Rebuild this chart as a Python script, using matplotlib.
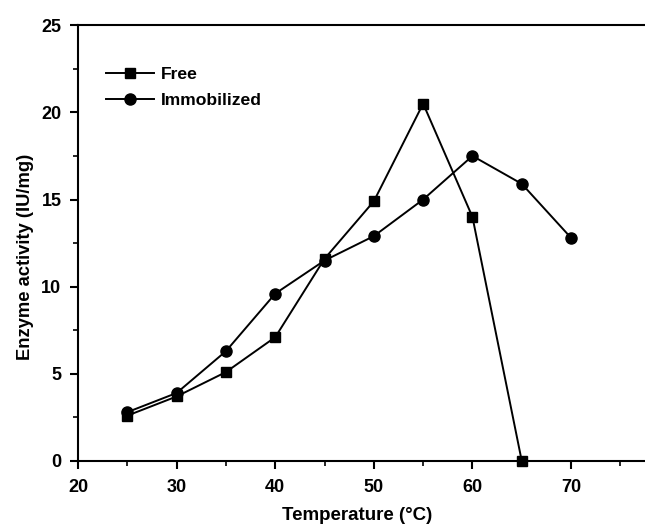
import matplotlib
matplotlib.use("Agg")
import matplotlib.pyplot as plt
from matplotlib.ticker import MultipleLocator

plt.rcParams['font.family'] = ['Liberation Sans', 'DejaVu Sans']
plt.rcParams['font.weight'] = 'bold'

temp_free = [25, 30, 35, 40, 45, 50, 55, 60, 65]
act_free = [2.6, 3.7, 5.1, 7.1, 11.6, 14.9, 20.5, 14.0, 0.0]
temp_imm = [25, 30, 35, 40, 45, 50, 55, 60, 65, 70]
act_imm = [2.8, 3.9, 6.3, 9.6, 11.5, 12.9, 15.0, 17.5, 15.9, 12.8]

fig = plt.figure(figsize=(6.45, 5.25), dpi=100)
ax = fig.add_axes([0.121, 0.122, 0.879, 0.83])

ax.plot(temp_free, act_free, color='black', lw=1.4, marker='s', ms=7, label='Free', clip_on=False, zorder=3)
ax.plot(temp_imm, act_imm, color='black', lw=1.4, marker='o', ms=8, label='Immobilized', clip_on=False, zorder=3)

ax.set_xlim(20, 77.5)
ax.set_ylim(0, 25)
ax.xaxis.set_major_locator(MultipleLocator(10))
ax.xaxis.set_minor_locator(MultipleLocator(5))
ax.yaxis.set_major_locator(MultipleLocator(5))
ax.yaxis.set_minor_locator(MultipleLocator(2.5))
ax.tick_params(which='major', direction='out', length=6, width=1.5, labelsize=13)
ax.tick_params(axis='x', which='major', pad=7)
ax.tick_params(axis='y', which='major', pad=6)
ax.tick_params(which='minor', direction='out', length=3.5, width=1.2)
for lbl in ax.get_xticklabels() + ax.get_yticklabels():
    lbl.set_fontweight('bold')
ax.spines['right'].set_visible(False)
for s in ['left', 'bottom', 'top']:
    ax.spines[s].set_linewidth(1.5)

ax.set_xlabel('Temperature (°C)', fontsize=13.5, fontweight='bold')
ax.set_ylabel('Enzyme activity (IU/mg)', fontsize=13.2, fontweight='bold')
ax.xaxis.set_label_coords(0.493, -0.105)
ax.yaxis.set_label_coords(-0.078, 0.468)

leg = ax.legend(loc='upper left', bbox_to_anchor=(0.022, 0.94), frameon=False, fontsize=12.6,
                handlelength=2.7, handletextpad=0.4, labelspacing=0.6)
for t in leg.get_texts():
    t.set_fontweight('bold')

fig.savefig('out.png', dpi=100)
